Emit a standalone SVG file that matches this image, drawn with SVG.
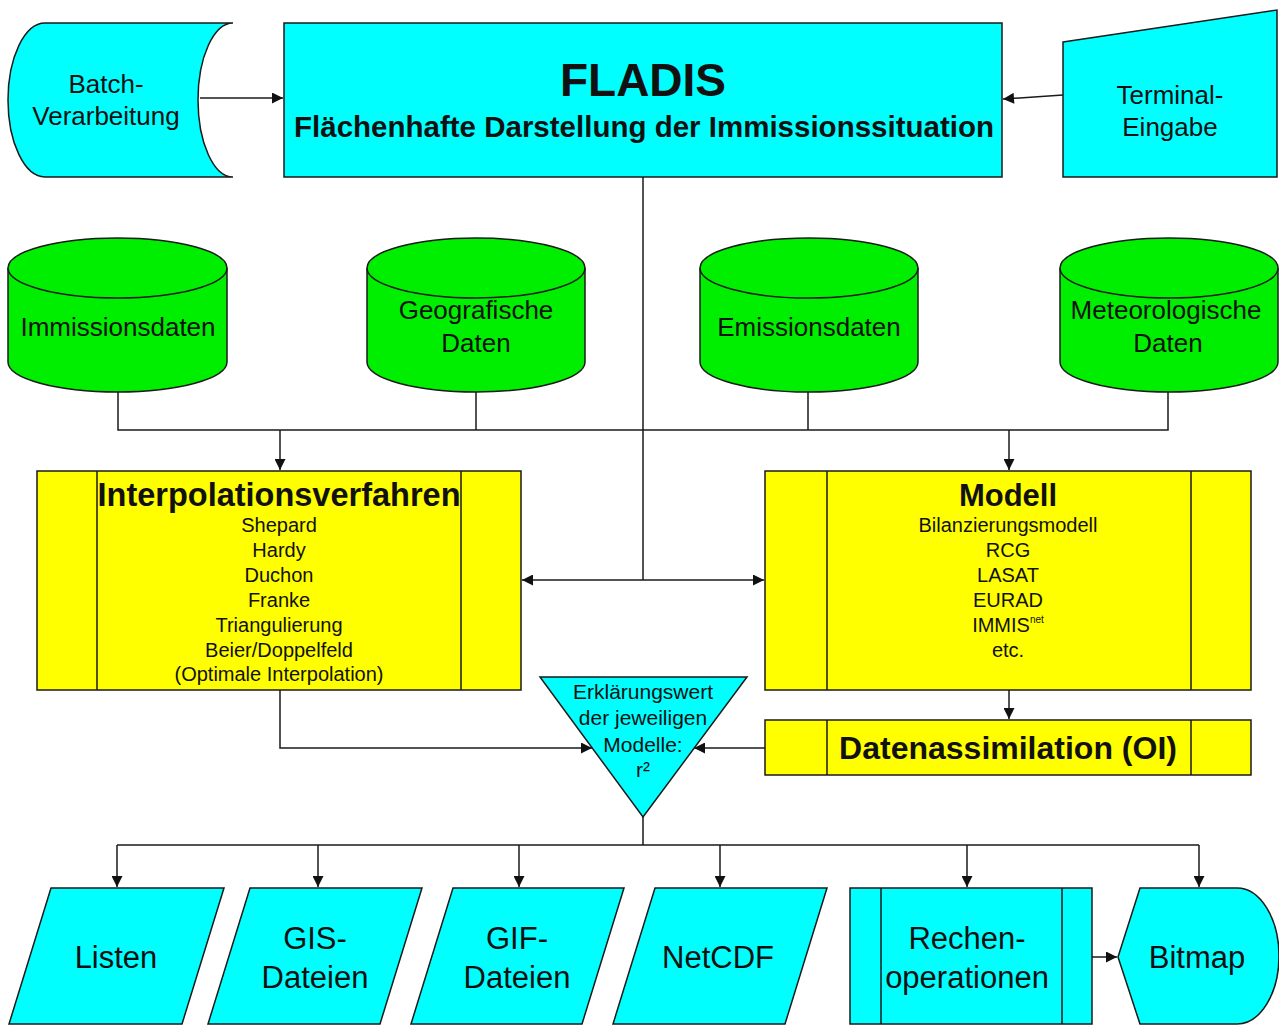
<svg xmlns="http://www.w3.org/2000/svg" width="1279" height="1026" viewBox="0 0 1279 1026">
<style>
.cy{fill:#00FFFF;stroke:#1a1a1a;stroke-width:1.5}
.gr{fill:#00EE00;stroke:#1a1a1a;stroke-width:1.5}
.ye{fill:#FFFF00;stroke:#1a1a1a;stroke-width:1.5}
.ln{fill:none;stroke:#1a1a1a;stroke-width:1.5}
text{font-family:"Liberation Sans",Arial,sans-serif;fill:#111;text-anchor:middle}
.b{font-weight:bold}
.n{font-size:26px}
.s{font-size:20px}
.o{font-size:31px}
.t{font-size:21px}
</style>
<defs>
<marker id="ah" viewBox="0 0 10 10" refX="10" refY="5" markerWidth="12" markerHeight="11" markerUnits="userSpaceOnUse" orient="auto-start-reverse">
<path d="M0,0 L10,5 L0,10 Z" fill="#111"/>
</marker>
</defs>
<g id="connectors">
<path class="ln" d="M200,98 H283" marker-end="url(#ah)"/>
<path class="ln" d="M1063,95 L1003,99" marker-end="url(#ah)"/>
<path class="ln" d="M118,392 V430 H1168 V392 M476,392 V430 M808,392 V430"/>
<path class="ln" d="M280,430 V470" marker-end="url(#ah)"/>
<path class="ln" d="M1009,430 V470" marker-end="url(#ah)"/>
<path class="ln" d="M643,177 V580"/>
<path class="ln" d="M522,580 H764" marker-start="url(#ah)" marker-end="url(#ah)"/>
<path class="ln" d="M1009,690 V719" marker-end="url(#ah)"/>
<path class="ln" d="M280,690 V748 H592" marker-end="url(#ah)"/>
<path class="ln" d="M765,748 H694" marker-end="url(#ah)"/>
<path class="ln" d="M643,817 V845 M117,845 H1199"/>
<path class="ln" d="M117,845 V887" marker-end="url(#ah)"/>
<path class="ln" d="M318,845 V887" marker-end="url(#ah)"/>
<path class="ln" d="M519,845 V887" marker-end="url(#ah)"/>
<path class="ln" d="M720,845 V887" marker-end="url(#ah)"/>
<path class="ln" d="M967,845 V887" marker-end="url(#ah)"/>
<path class="ln" d="M1199,845 V887" marker-end="url(#ah)"/>
<path class="ln" d="M1092,957 H1117" marker-end="url(#ah)"/>
</g>
<g id="batch">
<path class="cy" d="M45,23 H233 A35,77 0 0 0 233,177 H45 A37,77 0 0 1 45,23 Z"/>
<text class="n" x="106" y="93">Batch-</text>
<text class="n" x="106" y="125">Verarbeitung</text>
</g>
<g id="fladis">
<rect class="cy" x="284" y="23" width="718" height="154"/>
<text class="b" x="643" y="96" style="font-size:46px">FLADIS</text>
<text class="b" x="644" y="137" style="font-size:29.5px">Flächenhafte Darstellung der Immissionssituation</text>
</g>
<g id="terminal">
<path class="cy" d="M1063,42 L1277,10 V177 H1063 Z"/>
<text class="n" x="1170" y="104">Terminal-</text>
<text class="n" x="1170" y="136">Eingabe</text>
</g>
<g id="immissionsdaten">
<path class="gr" d="M8,268 V362 A109.5,30 0 0 0 227,362 V268"/>
<ellipse class="gr" cx="117.5" cy="268" rx="109.5" ry="30"/>
<text class="n" x="118" y="336">Immissionsdaten</text>
</g>
<g id="geografische">
<path class="gr" d="M367,268 V362 A109,30 0 0 0 585,362 V268"/>
<ellipse class="gr" cx="476" cy="268" rx="109" ry="30"/>
<text class="n" x="476" y="319">Geografische</text>
<text class="n" x="476" y="352">Daten</text>
</g>
<g id="emissionsdaten">
<path class="gr" d="M700,268 V362 A109,30 0 0 0 918,362 V268"/>
<ellipse class="gr" cx="809" cy="268" rx="109" ry="30"/>
<text class="n" x="809" y="336">Emissionsdaten</text>
</g>
<g id="meteorologische">
<path class="gr" d="M1060,268 V362 A109,30 0 0 0 1278,362 V268"/>
<ellipse class="gr" cx="1169" cy="268" rx="109" ry="30"/>
<text class="n" x="1166" y="319">Meteorologische</text>
<text class="n" x="1168" y="352">Daten</text>
</g>
<g id="interpolation">
<rect class="ye" x="37" y="471" width="484" height="219"/>
<path class="ln" d="M97,471 V690 M461,471 V690"/>
<text class="b" x="279" y="506" style="font-size:32.5px">Interpolationsverfahren</text>
<text class="s" x="279" y="532">Shepard</text>
<text class="s" x="279" y="557">Hardy</text>
<text class="s" x="279" y="582">Duchon</text>
<text class="s" x="279" y="607">Franke</text>
<text class="s" x="279" y="632">Triangulierung</text>
<text class="s" x="279" y="657">Beier/Doppelfeld</text>
<text class="s" x="279" y="681">(Optimale Interpolation)</text>
</g>
<g id="modell">
<rect class="ye" x="765" y="471" width="486" height="219"/>
<path class="ln" d="M827,471 V690 M1191,471 V690"/>
<text class="b" x="1008" y="506" style="font-size:31px">Modell</text>
<text class="s" x="1008" y="532">Bilanzierungsmodell</text>
<text class="s" x="1008" y="557">RCG</text>
<text class="s" x="1008" y="582">LASAT</text>
<text class="s" x="1008" y="607">EURAD</text>
<text class="s" x="1008" y="632">IMMIS<tspan style="font-size:10px" dy="-9">net</tspan></text>
<text class="s" x="1008" y="657">etc.</text>
</g>
<g id="datenassimilation">
<rect class="ye" x="765" y="720" width="486" height="55"/>
<path class="ln" d="M827,720 V775 M1191,720 V775"/>
<text class="b" x="1008" y="759" style="font-size:32px">Datenassimilation (OI)</text>
</g>
<g id="erklaerungswert">
<path class="cy" d="M540,677 H747 L643,817 Z"/>
<text class="t" x="643" y="699">Erklärungswert</text>
<text class="t" x="643" y="725">der jeweiligen</text>
<text class="t" x="643" y="752">Modelle:</text>
<text class="t" x="643" y="777">r²</text>
</g>
<g id="listen">
<path class="cy" d="M51,888 H224 L182,1024 H9 Z"/>
<text class="o" x="116" y="968">Listen</text>
</g>
<g id="gis">
<path class="cy" d="M250,888 H422 L380,1024 H208 Z"/>
<text class="o" x="315" y="949">GIS-</text>
<text class="o" x="315" y="988">Dateien</text>
</g>
<g id="gif">
<path class="cy" d="M453,888 H624 L582,1024 H411 Z"/>
<text class="o" x="517" y="949">GIF-</text>
<text class="o" x="517" y="988">Dateien</text>
</g>
<g id="netcdf">
<path class="cy" d="M655,888 H827 L785,1024 H613 Z"/>
<text class="o" x="718" y="968">NetCDF</text>
</g>
<g id="rechenoperationen">
<rect class="cy" x="850" y="888" width="242" height="136"/>
<path class="ln" d="M881,888 V1024 M1062,888 V1024"/>
<text class="o" x="967" y="949">Rechen-</text>
<text class="o" x="967" y="988">operationen</text>
</g>
<g id="bitmap">
<path class="cy" d="M1118,957 L1140,888 H1237 A42,68 0 0 1 1237,1024 H1140 Z"/>
<text class="o" x="1197" y="968">Bitmap</text>
</g>
</svg>
